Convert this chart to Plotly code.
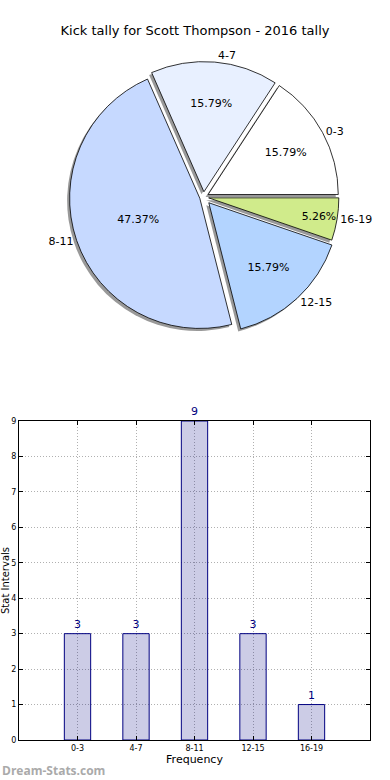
import plotly.graph_objects as go

# ---- data ----
categories = ["0-3", "4-7", "8-11", "12-15", "16-19"]
counts = [3, 3, 9, 3, 1]
slice_colors = ["#ffffff", "#e8f0ff", "#c6d9ff", "#b3d4ff", "#d0eb8b"]
pulls = [0.04, 0.04, 0.03, 0.06, 0.04]
y_ticks = list(range(0, 10))

title_text = "Kick tally for Scott Thompson - 2016 tally"
W, H = 390, 780

def py(px):
    return 1 - px / H

def pxx(px):
    return px / W

FONT = "DejaVu Sans"

# first slice begins at 3 o'clock, counterclockwise (plotly anchors the first slice's end)
rot = 90 - 360 * counts[0] / sum(counts)

fig = go.Figure()

pie_top, pie_bot = 59, 335
dom_y = [py(pie_bot), py(pie_top)]
main_x = [pxx(17), 1]
sh = 2.5  # shadow offset px

common = dict(labels=categories, values=counts, sort=False, automargin=False,
              direction="counterclockwise", rotation=rot, pull=pulls, showlegend=False)

# shadow
fig.add_trace(go.Pie(
    marker=dict(colors=["rgba(0,0,0,0.4)"] * len(categories), line=dict(width=0)),
    textinfo="none", hoverinfo="skip",
    domain=dict(x=[main_x[0] - 2 * sh / W, 1], y=[dom_y[0] - sh / H, dom_y[1] - sh / H]),
    **common,
))
# main pie with percentages
fig.add_trace(go.Pie(
    marker=dict(colors=slice_colors, line=dict(color="black", width=0.8)),
    texttemplate="%{percent:.2%}", textposition="inside",
    insidetextorientation="horizontal",
    textfont=dict(family=FONT, size=11, color="black"),
    domain=dict(x=main_x, y=dom_y),
    **common,
))
# outside labels
fig.add_trace(go.Pie(
    marker=dict(colors=["rgba(0,0,0,0)"] * len(categories), line=dict(width=0)),
    texttemplate="%{label}", textposition="outside",
    outsidetextfont=dict(family=FONT, size=11, color="black"),
    hoverinfo="skip",
    domain=dict(x=main_x, y=dom_y),
    **common,
))

# bar chart
fig.add_trace(go.Bar(
    x=categories, y=counts, width=0.45,
    marker=dict(color="rgba(0,0,128,0.2)", line=dict(color="#000080", width=1)),
    texttemplate="%{y}", textposition="outside", cliponaxis=False,
    textfont=dict(family=FONT, size=11, color="#000080"),
    showlegend=False, hoverinfo="skip",
))

axis_common = dict(
    showline=True, linecolor="black", linewidth=1, mirror="ticks",
    ticks="inside", ticklen=4, tickcolor="black",
    showgrid=True, gridcolor="#b0b0b0", griddash="1px,2px", gridwidth=1,
    zeroline=False, automargin=False,
)

fig.update_layout(
    width=W, height=H, autosize=False,
    margin=dict(l=0, r=0, t=0, b=0, autoexpand=False),
    showlegend=False,
    paper_bgcolor="white", plot_bgcolor="white",
    font=dict(family=FONT, color="black"),
    title=dict(text=title_text, x=0.5, xanchor="center", y=py(30), yanchor="middle",
               font=dict(family=FONT, size=13, color="black")),
    xaxis=dict(domain=[pxx(19), pxx(370)], anchor="y", type="category",
               range=[-1, 5], tickfont=dict(family=FONT, size=8),
               title=dict(text="Frequency", font=dict(family=FONT, size=11), standoff=3),
               **axis_common),
    yaxis=dict(domain=[py(740), py(421)], anchor="x", range=[0, 9],
               tickvals=y_ticks, tickfont=dict(family=FONT, size=8),
               title=dict(text="Stat Intervals", font=dict(family=FONT, size=10), standoff=2),
               **axis_common),
    annotations=[dict(text="Dream-Stats.com", x=0, y=py(770), xref="paper", yref="paper",
                      xanchor="left", yanchor="middle", showarrow=False,
                      font=dict(family="Open Sans", size=12, color="#aaaaaa", weight="bold"))],
)

fig.write_html("out.html", config={"displayModeBar": False},
               post_script="document.body.style.margin='0';")
